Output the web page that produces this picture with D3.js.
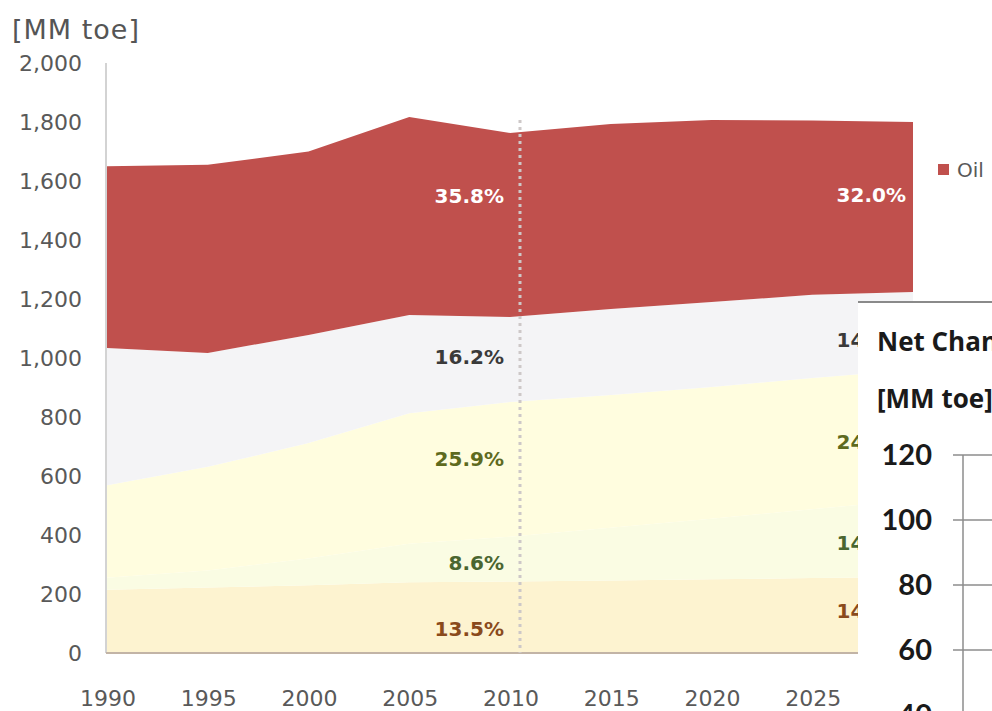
<!DOCTYPE html>
<html>
<head>
<meta charset="utf-8">
<script src="https://cdn.jsdelivr.net/npm/d3@7"></script>
<style>
body { margin: 0; background: #fff; }
svg { display: block; }
</style>
</head>
<body>
<svg width="992" height="711"></svg>
<script>
// primary energy demand by source, MM toe
const years = [1990, 1995, 2000, 2005, 2010, 2015, 2020, 2025, 2030];
const nuclear    = [214, 222, 230, 240, 242, 246, 250, 254, 258];
const renewables = [41, 58, 90, 130, 152, 179, 205, 233, 261];
const gas        = [314, 351, 392, 443, 457, 450, 447, 445, 441];
const coal       = [465, 386, 366, 333, 288, 291, 288, 282, 264];
const oil        = [616, 638, 622, 671, 624, 627, 617, 591, 576];

const seriesNames = ["Nuclear", "Renewables", "Gas", "Coal", "Oil"];
const labels2010 = ["13.5%", "8.6%", "25.9%", "16.2%", "35.8%"];
const labels2030 = ["14.3%", "14.5%", "24.5%", "14.7%", "32.0%"];
const yTicks = [0, 200, 400, 600, 800, 1000, 1200, 1400, 1600, 1800, 2000];
const xTicks = [1990, 1995, 2000, 2005, 2010, 2015, 2020, 2025];
const insetTicks = [40, 60, 80, 100, 120];

const colors = ["#fdf3d0", "#fafce3", "#fffddf", "#f4f4f6", "#c0504d"];
const labelColors = ["#8a4a1c", "#4a6630", "#5e6a1e", "#3a3a3a", "#ffffff"];
// where inside each band the share label sits (0 = bottom, 1 = top)
const frac2010 = [0.335, 0.43, 0.58, 0.53, 0.66];
const frac2030 = [0.55, 0.44, 0.45, 0.38, 0.57];

const svg = d3.select("svg");

const x = d3.scaleLinear().domain([1990, 2030]).range([107, 913]);
const y = d3.scaleLinear().domain([0, 2000]).range([653, 63]);

const table = years.map((yr, i) => ({
    year: yr, Nuclear: nuclear[i], Renewables: renewables[i],
    Gas: gas[i], Coal: coal[i], Oil: oil[i]
}));
const stacked = d3.stack().keys(seriesNames)(table);

const area = d3.area()
    .x(d => x(d.data.year))
    .y0(d => y(d[0]))
    .y1(d => y(d[1]));

svg.append("g")
    .selectAll("path")
    .data(stacked)
    .enter()
    .append("path")
    .attr("d", area)
    .attr("fill", (d, i) => colors[i]);

// axes lines
svg.append("line")
    .attr("x1", 106).attr("x2", 106)
    .attr("y1", y(2000)).attr("y2", y(0))
    .attr("stroke", "#c4c4c4").attr("stroke-width", 1.5);
svg.append("line")
    .attr("x1", 106).attr("x2", x(2030))
    .attr("y1", y(0)).attr("y2", y(0))
    .attr("stroke", "#c2b4a6").attr("stroke-width", 2);

// y tick labels
svg.append("g")
    .selectAll("text")
    .data(yTicks)
    .enter()
    .append("text")
    .attr("x", 82)
    .attr("y", d => y(d))
    .attr("dy", "0.36em")
    .attr("text-anchor", "end")
    .attr("font-family", "DejaVu Sans")
    .attr("font-size", 22)
    .attr("fill", "#595959")
    .text(d => d3.format(",")(d));

// x tick labels
svg.append("g")
    .selectAll("text")
    .data(xTicks)
    .enter()
    .append("text")
    .attr("x", d => x(d) + 1)
    .attr("y", 706)
    .attr("text-anchor", "middle")
    .attr("font-family", "DejaVu Sans")
    .attr("font-size", 22)
    .attr("fill", "#595959")
    .text(d => d);

svg.append("text")
    .attr("x", 12).attr("y", 39)
    .attr("font-family", "DejaVu Sans")
    .attr("font-size", 27)
    .attr("letter-spacing", 1)
    .attr("fill", "#555")
    .text("[MM toe]");

// dotted marker near 2010
svg.append("line")
    .attr("x1", x(2010) + 10).attr("x2", x(2010) + 10)
    .attr("y1", 120).attr("y2", y(0))
    .attr("stroke", "#cdc8c8")
    .attr("stroke-width", 3)
    .attr("stroke-dasharray", "3,4");

// share labels
function shareLabels(yearIdx, texts, fracs, xPos) {
    svg.append("g")
        .selectAll("text")
        .data(stacked)
        .enter()
        .append("text")
        .attr("x", xPos)
        .attr("y", (d, i) => {
            var p = d[yearIdx];
            return y(p[0] + (p[1] - p[0]) * fracs[i]);
        })
        .attr("dy", "0.36em")
        .attr("text-anchor", "end")
        .attr("font-family", "DejaVu Sans")
        .attr("font-weight", "bold")
        .attr("font-size", 20)
        .attr("fill", (d, i) => labelColors[i])
        .text((d, i) => texts[i]);
}
shareLabels(years.indexOf(2010), labels2010, frac2010, x(2010) - 6);
shareLabels(years.indexOf(2030), labels2030, frac2030, x(2030) - 7);

// legend (only the Oil entry is visible)
svg.append("rect")
    .attr("x", 938).attr("y", 164)
    .attr("width", 11).attr("height", 11)
    .attr("fill", colors[4]);
svg.append("text")
    .attr("x", 957).attr("y", 170)
    .attr("dy", "0.36em")
    .attr("font-family", "DejaVu Sans")
    .attr("font-size", 20)
    .attr("fill", "#595959")
    .text("Oil");

// overlapping inset chart (net change)
const inset = svg.append("g");
inset.append("rect")
    .attr("x", 858).attr("y", 302)
    .attr("width", 140).attr("height", 420)
    .attr("fill", "#fff");
inset.append("line")
    .attr("x1", 858).attr("x2", 992)
    .attr("y1", 302).attr("y2", 302)
    .attr("stroke", "#8a8a8a").attr("stroke-width", 2);

inset.append("text")
    .attr("x", 877).attr("y", 351)
    .attr("font-family", "Open Sans")
    .attr("font-weight", "bold")
    .attr("font-size", 26)
    .attr("fill", "#1a1a1a")
    .text("Net Change");
inset.append("text")
    .attr("x", 877).attr("y", 408)
    .attr("font-family", "Open Sans")
    .attr("font-weight", "bold")
    .attr("font-size", 26)
    .attr("fill", "#1a1a1a")
    .text("[MM toe]");

const yi = d3.scaleLinear().domain([40, 120]).range([715, 455]);
inset.append("line")
    .attr("x1", 963).attr("x2", 963)
    .attr("y1", yi(120)).attr("y2", 711)
    .attr("stroke", "#8c8c8c").attr("stroke-width", 1.5);
inset.append("g")
    .selectAll("line")
    .data(insetTicks)
    .enter()
    .append("line")
    .attr("x1", 953).attr("x2", 992)
    .attr("y1", d => yi(d)).attr("y2", d => yi(d))
    .attr("stroke", "#8c8c8c").attr("stroke-width", 1.5);
inset.append("g")
    .selectAll("text")
    .data(insetTicks)
    .enter()
    .append("text")
    .attr("x", 932)
    .attr("y", d => yi(d))
    .attr("dy", "0.36em")
    .attr("text-anchor", "end")
    .attr("font-family", "Lato")
    .attr("font-weight", "bold")
    .attr("font-size", 29)
    .attr("fill", "#1a1a1a")
    .text(d => d);
</script>
</body>
</html>
